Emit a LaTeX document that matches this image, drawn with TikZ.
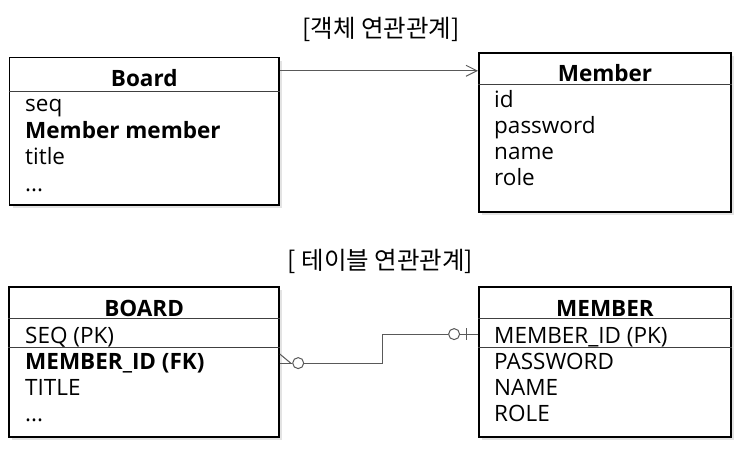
\documentclass[tikz,border=0pt]{standalone}
\usepackage{fontspec}
\setmainfont{Open Sans}
\newfontfamily\kr{Noto Sans CJK KR}
\usetikzlibrary{arrows.meta,shadows}
\begin{document}
\begin{tikzpicture}[x=1pt,y=-1pt,
  box/.style={draw=black,line width=1.8pt,fill=white,inner sep=0pt,
    drop shadow={opacity=0.22,shadow xshift=3pt,shadow yshift=-3pt}},
  divider/.style={draw=black!75,line width=0.8pt},
  hdr/.style={anchor=base,inner sep=0pt,font=\fontsize{22.5}{26}\selectfont\bfseries},
  fld/.style={anchor=base west,inner sep=0pt,font=\fontsize{22.5}{26}\selectfont},
  bfld/.style={fld,font=\fontsize{22.5}{26}\selectfont\bfseries},
  ttl/.style={inner sep=0pt,font=\kr\fontsize{24.5}{28}\selectfont},
  conn/.style={draw=black!65,line width=1pt},
  circ/.style={circle,draw=black!65,line width=1pt,fill=white,minimum size=11pt,inner sep=0pt}]
\useasboundingbox (0,0) rectangle (742,448);
% titles
\node[ttl] (t1) at (381,29) {[객체 연관관계]};
\node[ttl] (t2) at (380.5,261) {[ 테이블 연관관계]};
% object boxes
\node[box,minimum width=269.5pt,minimum height=147.5pt] (Board) at (144.25,131.25) {};
\node[box,minimum width=252pt,minimum height=159pt] (Member) at (605,132.2) {};
\draw[divider] ([yshift=-35.2pt]Board.north west) -- ([yshift=-35.2pt]Board.north east);
\draw[divider] ([yshift=-32.3pt]Member.north west) -- ([yshift=-32.3pt]Member.north east);
\node[hdr] (bh) at (144.25,86.5) {Board};
\node[fld] (b1) at (25,111.5) {seq};
\node[bfld] (b2) at (25,138) {Member member};
\node[fld] (b3) at (25,164.5) {title};
\node[fld] (b4) at (25,191) {...};
\node[hdr] (mh) at (605,81.7) {Member};
\node[fld] (m1) at (494,107) {id};
\node[fld] (m2) at (494,133) {password};
\node[fld] (m3) at (494,159) {name};
\node[fld] (m4) at (494,185) {role};
\draw[conn,-{Straight Barb[length=11pt,width=11pt,line width=1pt]}]
  ([yshift=-14.2pt]Board.north east) -- ([yshift=-14.2pt]Board.north east -| Member.west);
% table boxes
\node[box,minimum width=269.7pt,minimum height=149.4pt] (BOARD) at (144.15,362) {};
\node[box,minimum width=252pt,minimum height=150pt] (MEMBER) at (605,362.3) {};
\draw[divider] ([yshift=-32pt]BOARD.north west) -- ([yshift=-32pt]BOARD.north east);
\draw[divider] ([yshift=-61pt]BOARD.north west) -- ([yshift=-61pt]BOARD.north east);
\draw[divider] ([yshift=-32pt]MEMBER.north west) -- ([yshift=-32pt]MEMBER.north east);
\draw[divider] ([yshift=-61pt]MEMBER.north west) -- ([yshift=-61pt]MEMBER.north east);
\node[hdr] (BH) at (144.15,316) {BOARD};
\node[fld] (B1) at (25,343) {SEQ (PK)};
\node[bfld] (B2) at (25,369.3) {MEMBER\_ID (FK)};
\node[fld] (B3) at (25,395) {TITLE};
\node[fld] (B4) at (25,421) {...};
\node[hdr] (MH) at (605,316) {MEMBER};
\node[fld] (M1) at (494,343) {MEMBER\_ID (PK)};
\node[fld] (M2) at (494,369) {PASSWORD};
\node[fld] (M3) at (494,395) {NAME};
\node[fld] (M4) at (494,421.7) {ROLE};
% ER connector
\coordinate (fk) at ([yshift=-76.7pt]BOARD.north east);
\coordinate (pk) at ([yshift=-47.7pt]MEMBER.north west);
\node[circ] (c1) at ([xshift=18.3pt]fk) {};
\node[circ] (c2) at ([xshift=-24pt]pk) {};
\draw[conn] (fk) -- (c1.west);
\draw[conn] ([yshift=9pt]fk) -- ([xshift=-1.5pt]c1.west);
\draw[conn] (c1.east) -- ++(78,0) |- (c2.west);
\draw[conn] (c2.east) -- (pk);
\draw[conn] ([xshift=-11.3pt,yshift=6pt]pk) -- ([xshift=-11.3pt,yshift=-6pt]pk);
\end{tikzpicture}
\end{document}
